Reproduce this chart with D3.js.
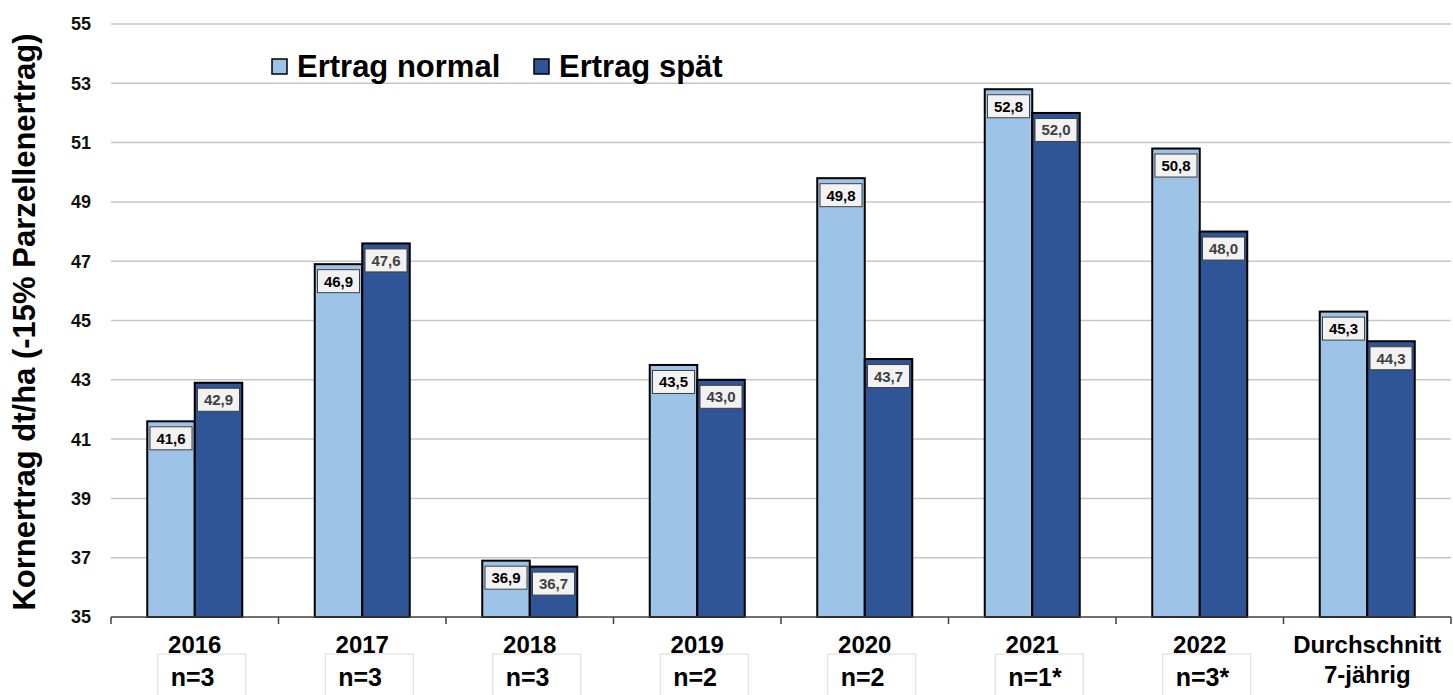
<!DOCTYPE html>
<html>
<head>
<meta charset="utf-8">
<script src="https://cdn.jsdelivr.net/npm/d3@7"></script>
<style>
  html, body { margin: 0; padding: 0; background: #fff; }
  svg { display: block; font-family: "Liberation Sans", Arial, sans-serif; font-weight: bold; }
</style>
</head>
<body>
<svg id="chart" width="1453" height="695"></svg>
<script>
// categories and values
const categories = ['2016', '2017', '2018', '2019', '2020', '2021', '2022', 'Durchschnitt']
const ertragNormal = [41.6, 46.9, 36.9, 43.5, 49.8, 52.8, 50.8, 45.3]
const ertragSpaet = [42.9, 47.6, 36.7, 43.0, 43.7, 52.0, 48.0, 44.3]
const sampleSizes = ['n=3', 'n=3', 'n=3', 'n=2', 'n=2', 'n=1*', 'n=3*', null]
const yTicks = [35, 37, 39, 41, 43, 45, 47, 49, 51, 53, 55]
const seriesNames = ['Ertrag normal', 'Ertrag spät']
const seriesColors = ['#9dc3e6', '#2f5597']

const svg = d3.select('#chart')
const plotLeft = 111, plotRight = 1451, plotTop = 24, plotBottom = 617

const x0 = d3.scaleBand().domain(categories).range([plotLeft, plotRight]).padding(0)
const x1 = d3.scaleBand().domain(seriesNames).range([0, x0.bandwidth()])
    .paddingInner(0).paddingOuter(0.763)
const y = d3.scaleLinear().domain([35, 55]).range([plotBottom, plotTop])

// gridlines
svg.append('g')
    .selectAll('line')
    .data(yTicks.filter(t => t > 35))
    .join('line')
    .attr('x1', plotLeft).attr('x2', plotRight)
    .attr('y1', d => y(d)).attr('y2', d => y(d))
    .attr('stroke', '#c6c6c6')
    .attr('stroke-width', 1.5)

// y tick labels
svg.append('g')
    .selectAll('text')
    .data(yTicks)
    .join('text')
    .attr('x', 91)
    .attr('y', d => y(d))
    .attr('dy', '0.36em')
    .attr('text-anchor', 'end')
    .attr('font-size', 18)
    .attr('fill', '#111')
    .text(d => d)

// y title
svg.append('text')
    .attr('transform', 'translate(35,322) rotate(-90)')
    .attr('text-anchor', 'middle')
    .attr('font-size', 31)
    .attr('fill', '#000')
    .text('Kornertrag dt/ha (-15% Parzellenertrag)')

// bars
const rows = categories.map((c, i) => ({
    cat: c,
    vals: [ertragNormal[i], ertragSpaet[i]]
}))

const groups = svg.append('g')
    .selectAll('g')
    .data(rows)
    .join('g')
    .attr('transform', d => `translate(${x0(d.cat)},0)`)

groups.selectAll('rect')
    .data(d => d.vals.map((v, k) => ({ name: seriesNames[k], v, k })))
    .join('rect')
    .attr('x', d => x1(d.name))
    .attr('y', d => y(d.v))
    .attr('width', x1.bandwidth())
    .attr('height', d => y(35) - y(d.v))
    .attr('fill', d => seriesColors[d.k])
    .attr('stroke', '#000')
    .attr('stroke-width', 2)

// value labels
const lab = groups.selectAll('g.lab')
    .data(d => d.vals.map((v, k) => ({ name: seriesNames[k], v, k })))
    .join('g')
    .attr('class', 'lab')
    .attr('transform', d => `translate(${x1(d.name) + x1.bandwidth() / 2},${y(d.v) + 5.5})`)

lab.append('rect')
    .attr('x', -21).attr('y', 0)
    .attr('width', 42).attr('height', 23)
    .attr('fill', '#f2f2f2')
    .attr('stroke', '#404040')
    .attr('stroke-width', 1)

lab.append('text')
    .attr('y', 17)
    .attr('text-anchor', 'middle')
    .attr('font-size', 15)
    .attr('fill', d => d.k === 0 ? '#000' : '#404040')
    .text(d => d3.format('.1f')(d.v).replace('.', ','))

// x axis line and ticks
svg.append('line')
    .attr('x1', plotLeft).attr('x2', plotRight)
    .attr('y1', plotBottom).attr('y2', plotBottom)
    .attr('stroke', '#404040').attr('stroke-width', 1.5)

svg.append('g')
    .selectAll('line')
    .data(categories.map(c => x0(c)).concat([plotRight]))
    .join('line')
    .attr('x1', d => d).attr('x2', d => d)
    .attr('y1', plotBottom).attr('y2', plotBottom + 7)
    .attr('stroke', '#404040').attr('stroke-width', 1.5)

// x labels
svg.append('g')
    .selectAll('text')
    .data(categories)
    .join('text')
    .attr('x', d => x0(d) + x0.bandwidth() / 2)
    .attr('y', 653)
    .attr('text-anchor', 'middle')
    .attr('font-size', 24)
    .attr('fill', '#000')
    .text(d => d)

svg.append('text')
    .attr('x', x0('Durchschnitt') + x0.bandwidth() / 2)
    .attr('y', 683)
    .attr('text-anchor', 'middle')
    .attr('font-size', 24)
    .attr('fill', '#000')
    .text('7-jährig')

// sample size boxes
const nb = svg.append('g')
    .selectAll('g')
    .data(categories.map((c, i) => ({ c, n: sampleSizes[i] })).filter(d => d.n))
    .join('g')
    .attr('transform', d => `translate(${x0(d.c) + x0.bandwidth() / 2 - 37},654)`)

nb.append('rect')
    .attr('width', 88).attr('height', 60)
    .attr('fill', '#fff')
    .attr('stroke', '#d9d9d9')
    .attr('stroke-width', 1)

nb.append('text')
    .attr('x', 13).attr('y', 32)
    .attr('font-size', 25)
    .attr('fill', '#000')
    .text(d => d.n)

// legend
const legendX = [272, 534]
const leg = svg.append('g')
    .selectAll('g')
    .data(seriesNames)
    .join('g')
    .attr('transform', (d, i) => `translate(${legendX[i]},59)`)

leg.append('rect')
    .attr('width', 15).attr('height', 15)
    .attr('fill', (d, i) => seriesColors[i])
    .attr('stroke', '#000').attr('stroke-width', 1.5)

leg.append('text')
    .attr('x', 25).attr('y', 18)
    .attr('font-size', 31)
    .attr('fill', '#000')
    .text(d => d)
</script>
</body>
</html>
